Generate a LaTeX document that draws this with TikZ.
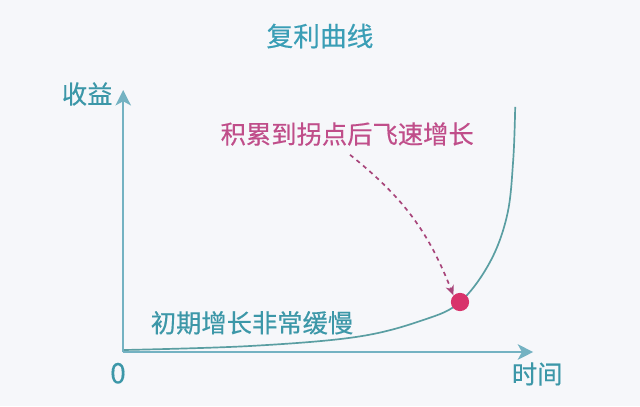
\documentclass[tikz,border=0pt]{standalone}
\usepackage{fontspec}
\usepackage{tikz}
\usetikzlibrary{arrows.meta}
\newfontfamily\cjk[FakeBold=0.4]{Noto Sans CJK SC}
\definecolor{bgcol}{HTML}{F6F7FA}
\definecolor{titlecol}{HTML}{3A9EB6}
\definecolor{labelcol}{HTML}{3C97A8}
\definecolor{axiscol}{HTML}{74B2C2}
\definecolor{curvecol}{HTML}{5A9EA2}
\definecolor{pinkcol}{HTML}{C04E8A}
\definecolor{dotcol}{HTML}{D8336B}
\definecolor{dashcol}{HTML}{A8457A}

\begin{document}
\begin{tikzpicture}[
    axis/.style={draw=axiscol, line width=1.4pt, -{Stealth[length=11pt,width=11pt,inset=3pt]}},
    lbl/.style={font=\cjk\fontsize{18}{20}\selectfont, text=labelcol, inner sep=0pt}
  ]
    \fill [bgcol] (0,0) rectangle (16.00,10.15);
    \useasboundingbox (0,0) rectangle (16.00,10.15);
    % axes
    \coordinate (o) at (3.08, 1.35);
    \coordinate (ytip) at (3.08, 7.90);
    \coordinate (xtip) at (13.33, 1.35);
    \draw [axis] (o) -- (ytip);
    \draw [axis] (o) -- (xtip);
    % labels
    \node (title) at (8.00, 9.25) [lbl, text=titlecol, font=\cjk\fontsize{19}{21}\selectfont] {复利曲线};
    \node (gain)  at (2.18, 7.80) [lbl] {收益};
    \node (zero)  at (2.95, 0.82) [lbl, font=\cjk\fontsize{20}{22}\selectfont] {0};
    \node (time)  at (13.43, 0.80) [lbl] {时间};
    \node (slow)  at (6.30, 2.08) [lbl] {初期增长非常缓慢};
    \node (fast)  at (8.68, 6.80) [lbl, text=pinkcol] {积累到拐点后飞速增长};
    % curve
    \draw [curvecol, line width=1.2pt] plot [smooth, tension=0.6] coordinates {
      (3.10,1.40) (6.25,1.50) (8.93,1.73) (10.58,2.15) (11.50,2.60)
      (12.25,3.60) (12.68,4.78) (12.83,6.15) (12.88,7.48)};
    \node (dot) at (11.50, 2.60) [circle, fill=dotcol, minimum size=13pt, inner sep=0pt] {};
    \coordinate (from) at (8.75, 6.28);
    \draw [dashcol, line width=1.2pt, dash pattern=on 3pt off 3pt, -{Stealth[length=7pt,width=6pt,inset=2pt]}]
      (from) to [bend left=15] (dot.north west);
  \end{tikzpicture}
\end{document}
